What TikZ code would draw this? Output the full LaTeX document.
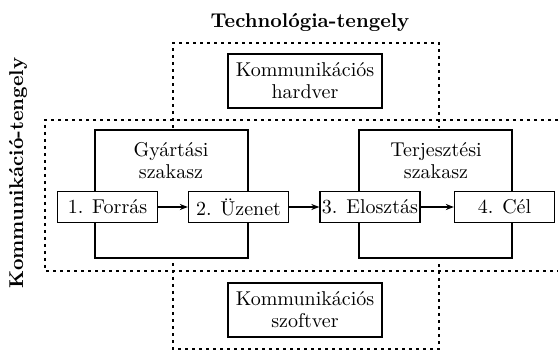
\documentclass[tikz,border=0pt]{standalone}
\usepackage{tikz}
\usetikzlibrary{arrows.meta}
\tikzstyle{base}=[font=\fontsize{10}{11}\selectfont]
\tikzstyle{box}=[draw, line width=0.65pt, fill=white, inner sep=0pt]
\tikzstyle{stepbox}=[box, minimum width=50pt, minimum height=15.5pt]
\tikzstyle{mediabox}=[box, align=center, minimum width=77pt, minimum height=27pt]
\tikzstyle{stagebox}=[draw, line width=0.65pt, minimum width=76.5pt, minimum height=64pt]
\tikzstyle{axisline}=[line width=0.9pt, dash pattern=on 1.5pt off 2pt]
\tikzstyle{axislabel}=[font=\fontsize{10}{12}\selectfont\bfseries]
\tikzstyle{flow}=[-{Stealth[length=4pt, width=3pt]}, line width=0.65pt]

\begin{document}
\begin{tikzpicture}[x=0.5pt, y=-0.5pt, base]
        \useasboundingbox (0,0) rectangle (560,351);
        \draw[axisline] (173,128) -- (173,43) -- (439,43) -- (439,128);
        \draw[axisline] (558,120) -- (45,120) -- (45,271) -- (558,271);
        \draw[axisline] (173,263) -- (173,349) -- (439,349) -- (439,263);
        \node[axislabel] (tech) at (310,22) {Technológia-tengely};
        \node[axislabel, rotate=90] (comm) at (18,173) {Kommunikáció-tengely};
        \node[stagebox] (prod) at (171.5,194) {};
        \node[stagebox] (dist) at (435.5,194) {};
        \node[align=center] (prodtext) at (171,161) {Gyártási\\szakasz};
        \node[align=center] (disttext) at (436,161) {Terjesztési\\szakasz};
        \node[mediabox] (hw) at (305,81) {Kommunikációs\\hardver};
        \node[mediabox] (sw) at (305,310) {Kommunikációs\\szoftver};
        \node[stepbox] (s1) at (107.5,207) {1. Forrás};
        \node[stepbox] (s2) at (238.5,207) {2. Üzenet};
        \node[stepbox] (s3) at (370,207) {3. Elosztás};
        \node[stepbox] (s4) at (504.5,207) {4. Cél};
        \draw[flow] (s1) -- (s2);
        \draw[flow] (s2) -- (s3);
        \draw[flow] (s3) -- (s4);
    \end{tikzpicture}
\end{document}
